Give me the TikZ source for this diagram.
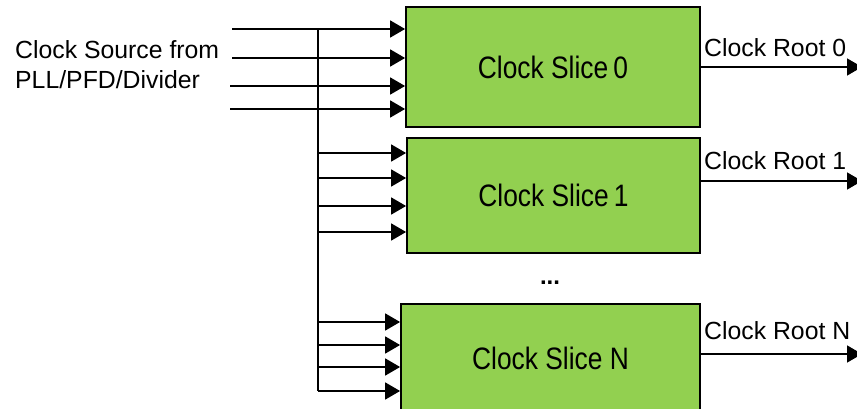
\documentclass[tikz,border=0pt]{standalone}
\usepackage{fontspec}
\setmainfont{Liberation Sans}
\newfontfamily\slicefont[FakeStretch=0.85]{Liberation Sans}
\usetikzlibrary{arrows.meta,positioning}
\definecolor{slicegreen}{HTML}{92D050}
\tikzset{
  every picture/.style={line join=miter, >={Triangle[length=15pt,width=17pt]}},
  slice/.style={draw=black, line width=1.8pt, fill=slicegreen, inner sep=0pt,
    font=\slicefont\fontsize{31}{36}\selectfont},
  feed/.style={->, line width=1.7pt},
  bus/.style={line width=1.6pt},
  lbl/.style={anchor=base west, inner sep=0pt, font=\fontsize{24.8}{28}\selectfont},
}

\begin{document}
\begin{tikzpicture}[x=1pt,y=-1pt]
\useasboundingbox (0,0) rectangle (857,409);
\clip (0,0) rectangle (857,409);
% slices
\node[slice, minimum width=294pt, minimum height=120pt] (s0) at (553,67) {Clock Slice\,0};
\node[slice, minimum width=293pt, minimum height=115pt] (s1) at (553.5,195.5) {Clock Slice\,1};
\node[slice, minimum width=299pt, minimum height=108pt] (sN) at (550.5,358) {Clock Slice N};
\node[anchor=base, inner sep=0pt, font=\bfseries\fontsize{24}{28}\selectfont] (dots) at (550,284) {...};
% source label
\node[lbl] (src1) at (15,59) {Clock Source from};
\node[lbl] (src2) at (15,89) {PLL/PFD/Divider};
% inputs to slice 0
\foreach \i/\y/\x in {1/29/232,2/58/232,3/86/230,4/109/230}{
  \coordinate (in\i) at (\x,\y);
  \draw[feed] (in\i) -- (in\i -| s0.west);
}
% bus
\coordinate (busTop) at (318,29);
\coordinate (busBot) at (318,391);
\draw[bus] (busTop) -- (busBot);
\foreach \y in {153,178,206,232}{
  \coordinate (tap) at (318,\y);
  \draw[feed] (tap) -- (tap -| s1.west);
}
\foreach \y in {322,345,367,391}{
  \coordinate (tap) at (318,\y);
  \draw[feed] (tap) -- (tap -| sN.west);
}
% roots
\foreach \n/\y/\b/\t in {s0/67/57/0,s1/181/170/1,sN/354/339/N}{
  \coordinate (root\t) at (862,\y);
  \draw[feed] (root\t -| \n.east) -- (root\t);
  \node[lbl] (rootlbl\t) at (704,\b) {Clock Root \t};
}
\end{tikzpicture}
\end{document}
